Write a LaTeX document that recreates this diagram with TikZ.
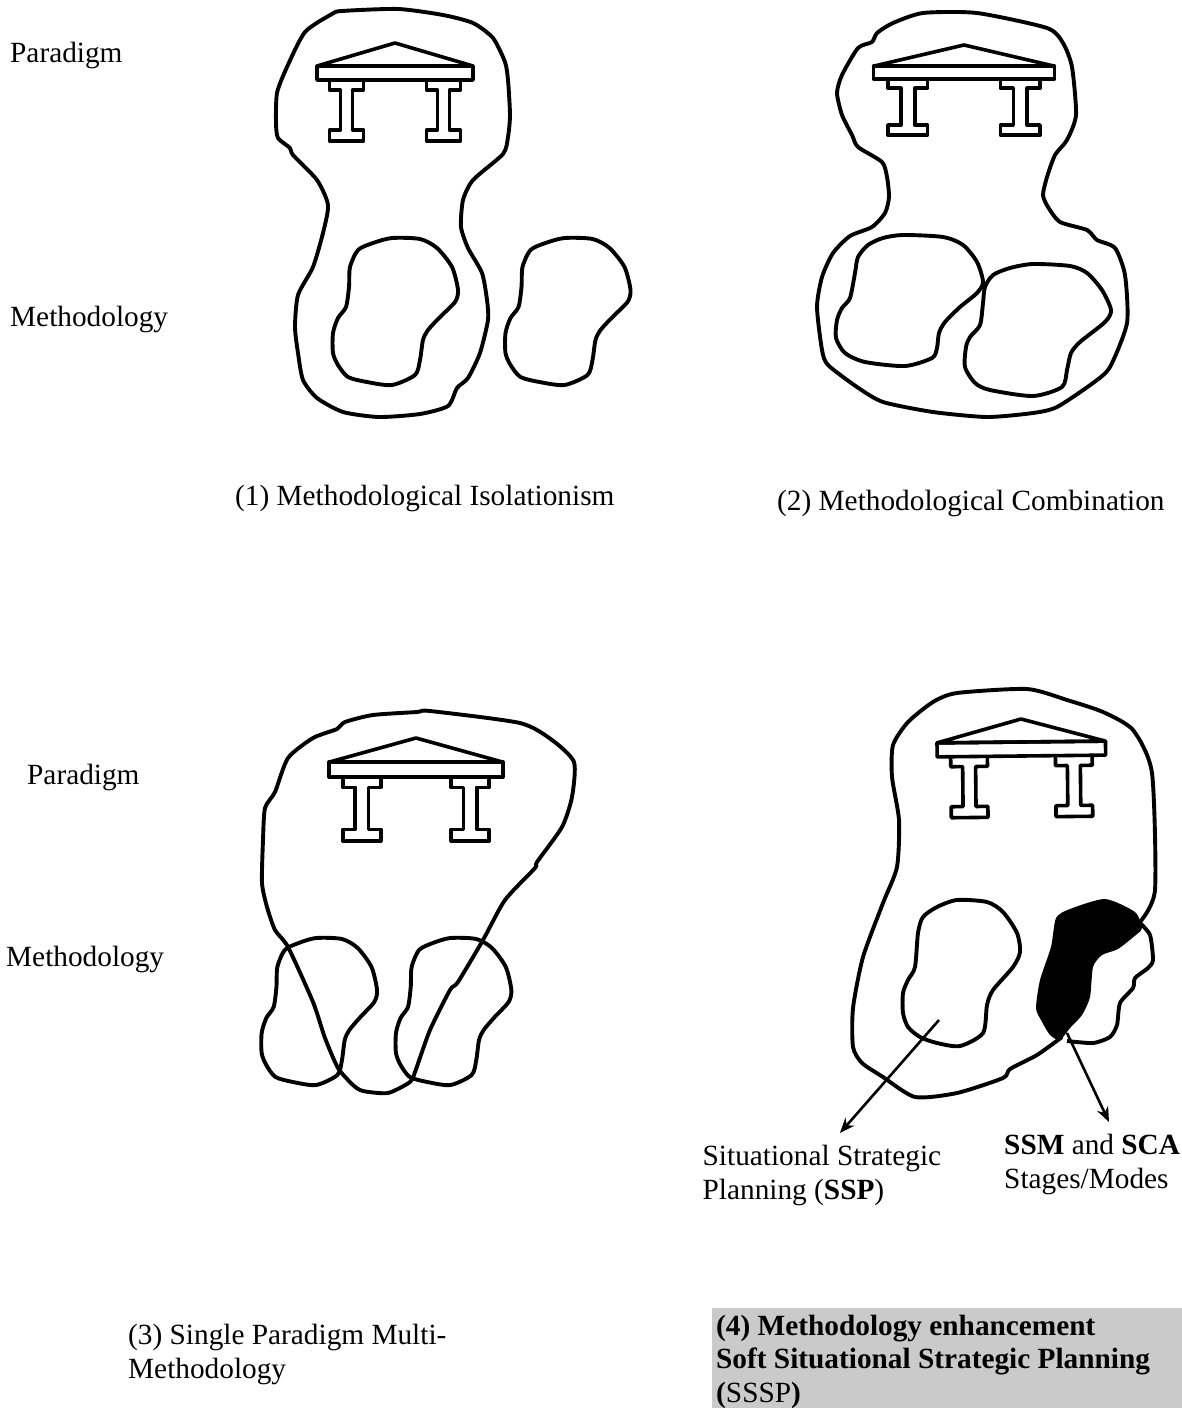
\documentclass[tikz,border=0pt]{standalone}
\usepackage{fontspec}
\setmainfont{Liberation Serif}
\usetikzlibrary{arrows.meta}
\definecolor{boxgrey}{HTML}{CACACA}
\tikzset{
  blobline/.style={line width=3.9pt,line join=round},
  templeline/.style={line width=3.6pt,line join=round},
  lbl/.style={inner sep=0pt,anchor=base west,align=left,font=\fontsize{29.3}{33.5}\selectfont},
  pointer/.style={line width=2.6pt,-{Stealth[length=15pt,width=12pt]}},
}
\newcommand{\templeicon}{%
  \draw[templeline] (0,0) -- (-78,23) -- (78,23) -- cycle;
  \draw[templeline] (-78,23) rectangle (78,37);
  \foreach \cx in {-48.5,48.5}{
    \draw[templeline,shift={(\cx,0)}] (-17,37) -- (-17,47) -- (-6,47) -- (-6,87) -- (-17,87) -- (-17,98) -- (17,98) -- (17,87) -- (6,87) -- (6,47) -- (17,47) -- (17,37);
  }
}
\newcommand{\methblob}{%
  \draw[blobline] plot[smooth cycle,tension=0.45] coordinates {(392,238)(420,239)(437,248)(452,267)(458,290)(455,302)(440,317)(428,330)(423,340)(420,360)(415,375)(392,385)(367,382)(348,377)(338,365)(333,353)(333,333)(338,318)(346,307)(349,287)(350,267)(358,250)(373,243)};
}
\begin{document}
\begin{tikzpicture}[x=1pt,y=-1pt]
\useasboundingbox (0,0) rectangle (1182,1408);
\fill[boxgrey] (712,1308) rectangle (1182,1408);

% panel 1
\draw[blobline] plot[smooth cycle,tension=0.4] coordinates {(305,32)(332,14)(342,11)(398,9)(443,15)(473,23)(493,38)(505,62)(508,80)(510,115)(508,137)(503,154)(473,180)(463,200)(461,227)(468,248)(482,273)(487,300)(488,320)(480,353)(468,378)(457,388)(448,406)(420,414)(379,417)(343,412)(317,398)(303,380)(298,353)(295,327)(298,295)(313,267)(323,233)(328,205)(317,180)(293,155)(290,148)(278,138)(276,123)(277,93)(287,67)};
\methblob
\begin{scope}[xshift=172.5pt]\methblob\end{scope}
\begin{scope}[shift={(395,43)}]\templeicon\end{scope}

% panel 2
\draw[blobline] plot[smooth cycle,tension=0.4] coordinates {(923,13)(977,13)(1047,28)(1063,43)(1072,67)(1076,115)(1067,140)(1055,155)(1047,177)(1043,195)(1048,207)(1060,222)(1087,230)(1097,240)(1115,248)(1125,275)(1127,323)(1110,367)(1093,383)(1057,407)(1033,413)(987,417)(933,412)(883,402)(857,387)(828,365)(822,350)(817,307)(822,277)(833,253)(850,236)(872,227)(885,213)(889,197)(887,177)(882,162)(858,147)(852,135)(842,115)(837,93)(842,75)(858,48)(872,42)(877,33)(893,23)};
\draw[blobline] plot[smooth cycle,tension=0.45] coordinates {(903,235)(943,237)(963,245)(977,262)(983,282)(977,293)(960,307)(945,322)(939,333)(937,348)(932,358)(905,366)(865,362)(845,353)(836,338)(837,320)(842,308)(850,298)(855,273)(858,257)(868,245)(883,238)};
\draw[blobline] plot[smooth cycle,tension=0.45] coordinates {(1033,264)(1070,266)(1087,273)(1102,290)(1111,310)(1105,322)(1080,342)(1071,353)(1067,370)(1062,387)(1033,396)(990,390)(975,383)(965,367)(966,347)(970,337)(980,325)(983,303)(985,287)(993,275)(1010,268)};
\begin{scope}[shift={(964,45)},xscale=1.16,yscale=0.92]\templeicon\end{scope}

% panel 3
\draw[blobline] plot[smooth cycle,tension=0.4] coordinates {(430,711)(520,723)(552,740)(574,762)(572,797)(562,827)(537,862)(535,868)(505,900)(483,940)(458,982)(450,990)(430,1030)(415,1072)(410,1082)(388,1093)(363,1091)(353,1085)(338,1068)(325,1038)(313,1002)(288,947)(275,930)(267,907)(262,883)(263,840)(265,808)(275,792)(288,758)(313,738)(337,729)(345,722)(373,715)(417,712)};
\begin{scope}[xshift=-45.7pt,yshift=-700pt,xscale=0.923]\methblob\end{scope}
\begin{scope}[xshift=88.6pt,yshift=-700pt,xscale=0.923]\methblob\end{scope}
\begin{scope}[shift={(416,738)},xscale=1.115,yscale=1.05]\templeicon\end{scope}

% panel 4
\fill[line join=round] plot[smooth cycle,tension=0.4] coordinates {(1105,899)(1135,912)(1142,928)(1137,934)(1118,949)(1102,955)(1093,967)(1090,997)(1082,1015)(1070,1028)(1060,1040)(1050,1035)(1041,1020)(1036,1008)(1040,980)(1051,947)(1056,918)(1070,909)};
\draw[blobline] plot[smooth,tension=0.4] coordinates {(1140,923)(1150,935)(1153,960)(1148,968)(1135,978)(1133,988)(1120,1003)(1117,1025)(1110,1037)(1093,1043)(1067,1041)};
\draw[blobline] plot[smooth,tension=0.4] coordinates {(1140,922)(1155,890)(1152,773)(1133,730)(1103,712)(1067,700)(1027,689)(957,693)(933,702)(908,722)(893,745)(892,777)(899,820)(897,867)(883,903)(863,957)(853,1008)(853,1047)(862,1063)(883,1077)(915,1097)(957,1093)(1003,1078)(1010,1069)(1037,1055)(1062,1037)};
\draw[blobline] plot[smooth cycle,tension=0.45] coordinates {(957,900)(987,902)(1003,912)(1017,933)(1020,952)(1013,967)(993,990)(987,1005)(983,1033)(960,1046)(937,1043)(920,1037)(908,1027)(903,1013)(903,993)(908,980)(915,967)(918,933)(923,917)(937,907)};
\begin{scope}[shift={(1021,719)},rotate=0.6,xscale=1.08]\templeicon\end{scope}

\coordinate (ssptail) at (939,1020);
\coordinate (ssmtail) at (1067,1033);
\coordinate (ssphead) at (840,1133);
\coordinate (ssmhead) at (1109,1122);
\draw[pointer] (ssptail) -- (ssphead);
\draw[pointer] (ssmtail) -- (ssmhead);

% labels
\node[lbl] (p1) at (10,62) {Paradigm};
\node[lbl] (m1) at (10,326) {Methodology};
\node[lbl] (c1) at (235,505) {(1) Methodological Isolationism};
\node[lbl] (c2) at (777,510) {(2) Methodological Combination};
\node[lbl] (p3) at (27,784) {Paradigm};
\node[lbl] (m3) at (6,966) {Methodology};
\node[lbl] (ssp) at (702.5,1199) {Situational Strategic\\Planning (\textbf{SSP})};
\node[lbl] (ssm) at (1004,1188) {\textbf{SSM} and \textbf{SCA}\\Stages/Modes};
\node[lbl] (c3) at (128,1378) {(3) Single Paradigm Multi-\\Methodology};
\node[lbl] (c4) at (716,1402) {\textbf{(4) Methodology enhancement}\\\textbf{Soft Situational Strategic Planning}\\\textbf{(}SSSP\textbf{)}};
\end{tikzpicture}
\end{document}
